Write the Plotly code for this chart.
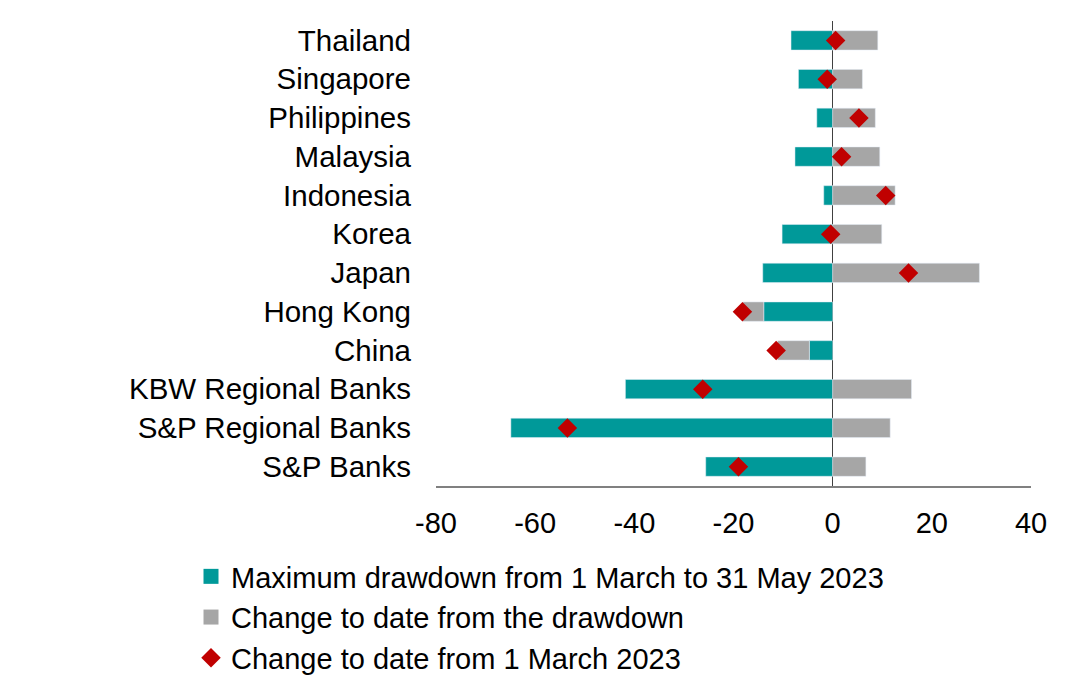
import plotly.graph_objects as go

categories = ["Thailand", "Singapore", "Philippines", "Malaysia", "Indonesia", "Korea",
              "Japan", "Hong Kong", "China", "KBW Regional Banks", "S&P Regional Banks", "S&P Banks"]
max_drawdown = [-8.4, -6.9, -3.2, -7.6, -1.8, -10.2, -14.1, -13.9, -4.7, -41.8, -64.9, -25.6]
change_from_drawdown = [9.1, 6.0, 8.6, 9.5, 12.6, 9.9, 29.6, -4.2, -6.4, 15.9, 11.6, 6.7]
change_from_march = [0.6, -1.1, 5.3, 1.8, 10.7, -0.4, 15.3, -18.2, -11.4, -26.2, -53.5, -19.0]
x_ticks = [-80, -60, -40, -20, 0, 20, 40]
x_tick_labels = ["-80", "-60", "-40", "-20", "0", "20", "40"]
series_names = ["Maximum drawdown from 1 March to 31 May 2023",
                "Change to date from the drawdown",
                "Change to date from 1 March 2023"]

TEAL = "#009999"
GRAY = "#a6a6a6"
RED = "#c00000"
FONT = "Liberation Sans, Arial, sans-serif"

fig = go.Figure()
fig.add_trace(go.Bar(
    y=categories, x=max_drawdown, orientation="h", marker_color=TEAL,
    name=series_names[0], showlegend=False, legendgroup="a",
))
fig.add_trace(go.Bar(
    y=categories, x=change_from_drawdown, orientation="h", marker_color=GRAY,
    name=series_names[1], showlegend=False, legendgroup="b",
))
fig.add_trace(go.Scatter(
    y=categories, x=change_from_march, mode="markers",
    marker=dict(symbol="diamond", size=15, color=RED),
    name=series_names[2], legendgroup="c", legendrank=3,
))
# legend-only entries with larger square swatches for the bar series
fig.add_trace(go.Scatter(
    x=[None], y=[None], mode="markers", marker=dict(symbol="square", size=15, color=TEAL),
    name=series_names[0], legendgroup="a", legendrank=1, hoverinfo="skip",
))
fig.add_trace(go.Scatter(
    x=[None], y=[None], mode="markers", marker=dict(symbol="square", size=15, color=GRAY),
    name=series_names[1], legendgroup="b", legendrank=2, hoverinfo="skip",
))

# page body has an 8px default margin; the figure is sized to fit the window
W, H = 1061, 683
L, R, T, B = 428, 38, 13, 205

fig.update_layout(
    width=W, height=H,
    barmode="relative",
    bargap=0.5,
    margin=dict(l=L, r=R, t=T, b=B, autoexpand=False),
    paper_bgcolor="white",
    plot_bgcolor="white",
    font=dict(family=FONT, size=29, color="#000000"),
    showlegend=True,
    legend=dict(
        orientation="v", xref="container", yref="container",
        x=183 / W, xanchor="left",
        y=1 - 543 / H, yanchor="top",
        traceorder="normal", tracegroupgap=6,
        bgcolor="rgba(0,0,0,0)", font=dict(size=29, family=FONT),
    ),
    xaxis=dict(
        range=[-80, 40], tickvals=x_ticks, ticktext=x_tick_labels, showgrid=False,
        zeroline=True, zerolinecolor="#404040", zerolinewidth=1.3,
        showline=True, linecolor="#808080", linewidth=1.5,
        ticks="", ticklabelstandoff=10, automargin=False,
    ),
    yaxis=dict(
        type="category", categoryorder="array", categoryarray=categories,
        range=[11.5, -0.5], showgrid=False, zeroline=False, showline=False,
        ticks="", ticklabelstandoff=24, automargin=False,
        tickfont=dict(size=29.5),
    ),
)

fig.write_html("out.html")
